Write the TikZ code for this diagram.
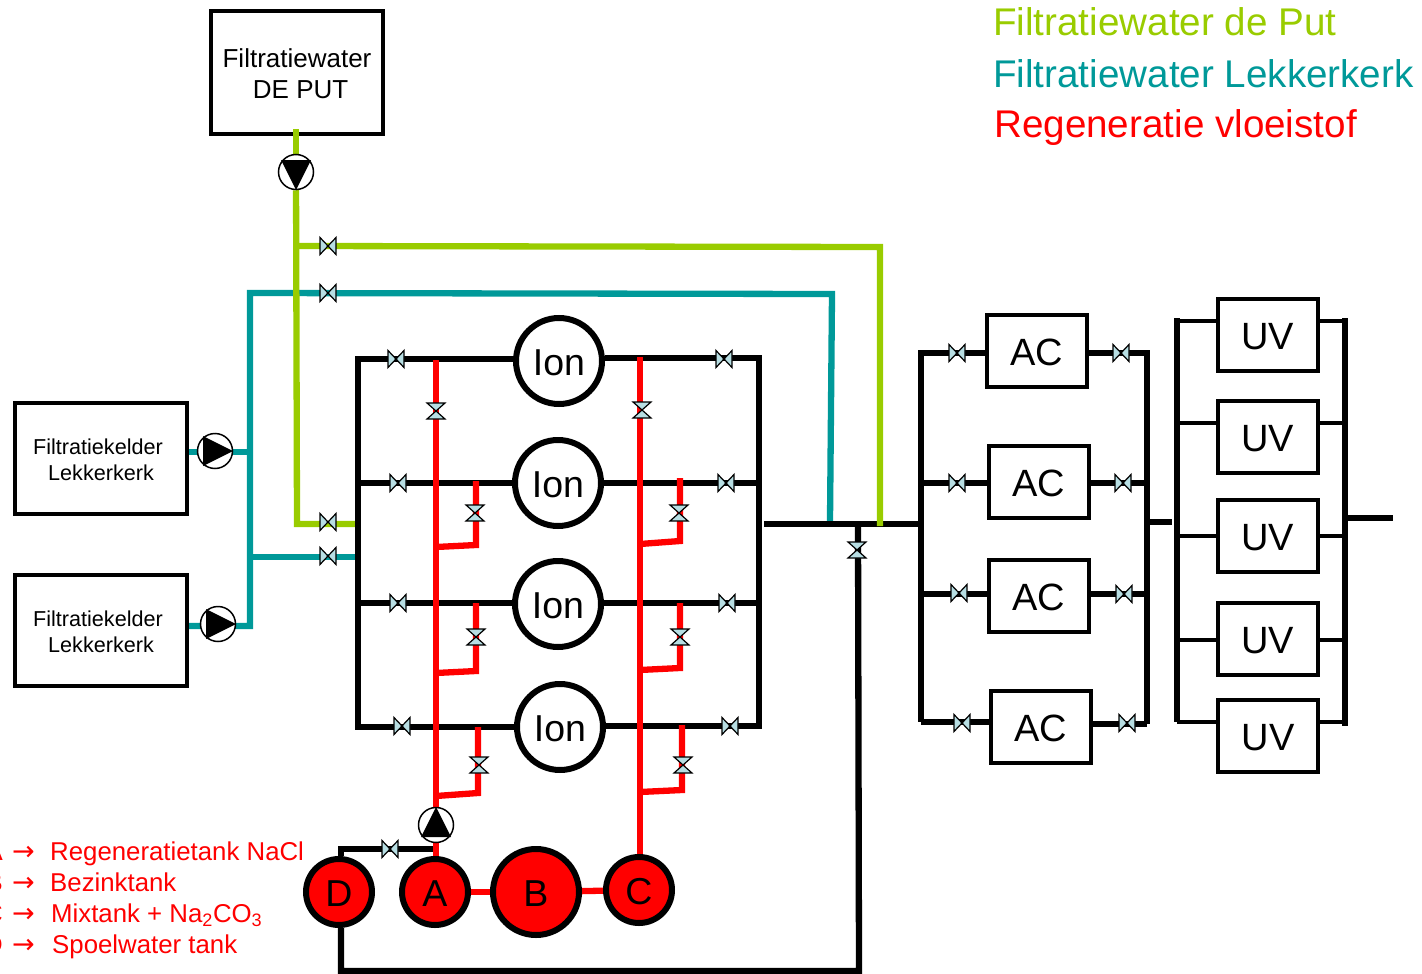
\documentclass[tikz,border=0pt]{standalone}
\usepackage{fontspec}
\setmainfont{Liberation Sans}
\newfontfamily\arrowfont{DejaVu Sans}
\usetikzlibrary{calc}
\pgfdeclarelayer{lines}
\pgfsetlayers{lines,main}
\definecolor{putgreen}{HTML}{99CC00}
\definecolor{lekteal}{HTML}{009999}
\definecolor{valveblue}{HTML}{B7DEE3}
\newcommand{\lowered}[1]{\raisebox{-2pt}[\height][\depth]{#1}}
\newcommand{\loweredac}[1]{\raisebox{-1pt}[\height][\depth]{#1}}
\tikzset{
  pipe/.style={line width=6.3pt,line join=miter},
  blackpipe/.style={pipe,draw=black},
  thinpipe/.style={line width=4.5pt,draw=black},
  redpipe/.style={pipe,draw=red},
  greenpipe/.style={pipe,draw=putgreen},
  tealpipe/.style={pipe,draw=lekteal},
  unitbox/.style={draw=black,line width=4pt,fill=white,inner sep=0pt,align=center},
  bigbox/.style={unitbox,minimum width=172pt,minimum height=122pt,font=\fontsize{26}{31}\selectfont},
  cellarbox/.style={unitbox,minimum width=172pt,minimum height=111pt,font=\fontsize{21.6}{26}\selectfont},
  acbox/.style={unitbox,minimum width=100pt,minimum height=72pt,font=\fontsize{38}{40}\selectfont},
  ionnode/.style={circle,draw=black,line width=6pt,fill=white,inner sep=0pt,minimum size=86pt,font=\fontsize{37.5}{40}\selectfont},
  tank/.style={circle,draw=black,line width=6pt,fill=red,inner sep=0pt,minimum size=#1,font=\fontsize{37.5}{40}\selectfont},
  pumpnode/.style={circle,draw=black,line width=1.5pt,fill=white,inner sep=0pt,minimum size=35pt},
  vnode/.style={inner sep=0pt,minimum size=16pt},
  vshape/.style={draw=black,line width=1.2pt,fill=valveblue,line join=miter},
  legendtop/.style={anchor=base west,inner sep=0pt,font=\fontsize{38.6}{42}\selectfont},
  legendlow/.style={anchor=base west,inner sep=0pt,text=red,font=\fontsize{25.8}{30}\selectfont},
  legendletter/.style={anchor=base east,inner sep=0pt,text=red,font=\fontsize{25.8}{30}\selectfont},
  legendarrow/.style={anchor=base west,inner sep=0pt,text=red,font=\arrowfont\fontsize{27}{30}\selectfont}
}
\newcommand{\valveH}[3]{%
  \node[vnode] (#1) at (#2,#3) {};
  \draw[vshape] (#2-8,#3-8.5) -- (#2+8,#3+8.5) -- (#2+8,#3-8.5) -- (#2-8,#3+8.5) -- cycle;}
\newcommand{\valveV}[3]{%
  \node[vnode] (#1) at (#2,#3) {};
  \draw[vshape] (#2-9,#3-8) -- (#2+9,#3-8) -- (#2-9,#3+8) -- (#2+9,#3+8) -- cycle;}
\newcommand{\pumpDown}[3]{%
  \node[pumpnode] (#1) at (#2,#3) {};
  \fill[black] (#2-15,#3-12) -- (#2+15,#3-12) -- (#2,#3+18) -- cycle;}
\newcommand{\pumpUp}[3]{%
  \node[pumpnode] (#1) at (#2,#3) {};
  \fill[black] (#2-15,#3+12) -- (#2+15,#3+12) -- (#2,#3-18) -- cycle;}
\newcommand{\pumpRight}[3]{%
  \node[pumpnode] (#1) at (#2,#3) {};
  \fill[black] (#2-12,#3-15) -- (#2-12,#3+15) -- (#2+18,#3) -- cycle;}
\newcommand{\legendrow}[5]{%
  \node[legendletter] (#1l) at (3,#3) {#4};
  \node[legendarrow] (#1a) at (12,#3) {→};
  \node[legendlow] (#1) at (#2,#3) {#5};}
\begin{document}
\begin{tikzpicture}[x=1pt,y=-1pt]
\useasboundingbox (0,0) rectangle (1422,974);
% top legend
\node[legendtop,text=putgreen] (lg1) at (993,36) {Filtratiewater de Put};
\node[legendtop,text=lekteal] (lg2) at (993,87.5) {Filtratiewater Lekkerkerk};
\node[legendtop,text=red] (lg3) at (994,137) {Regeneratie vloeistof};
% lower legend
\legendrow{ll1}{50}{860}{A}{Regeneratietank NaCl}
\legendrow{ll2}{50}{891}{B}{Bezinktank}
\legendrow{ll3}{51}{922}{C}{Mixtank + Na\textsubscript{2}CO\textsubscript{3}}
\legendrow{ll4}{52}{953}{D}{Spoelwater tank}
% boxes
\node[bigbox] (put) at (297,72.5) {\rule{0pt}{21pt}Filtratiewater\\\ DE PUT};
\node[cellarbox] (k1) at (101,458.5) {\rule{0pt}{18pt}Filtratiekelder\hspace*{6pt}\\Lekkerkerk};
\node[cellarbox] (k2) at (101,630.5) {\rule{0pt}{18pt}Filtratiekelder\hspace*{6pt}\\Lekkerkerk};
% ion units
\node[ionnode] (ion1) at (559,361) {\lowered{Ion}};
\node[ionnode] (ion2) at (558,483) {\lowered{Ion}};
\node[ionnode] (ion3) at (558,604) {\lowered{Ion}};
\node[ionnode] (ion4) at (560,727) {\lowered{Ion}};
% tanks
\node[tank=66pt] (D) at (339,892) {\lowered{D}};
\node[tank=66pt] (A) at (435,892) {\lowered{A}};
\node[tank=86pt] (B) at (536,892) {\lowered{B}};
\node[tank=66pt] (C) at (639,890) {\lowered{C}};
% AC
\node[acbox] (ac1) at (1037,351) {\loweredac{AC}};
\node[acbox] (ac2) at (1039,482) {\loweredac{AC}};
\node[acbox] (ac3) at (1039,596) {\loweredac{AC}};
\node[acbox] (ac4) at (1041,727) {\loweredac{AC}};
% UV
\node[acbox] (uv1) at (1267.5,335) {\lowered{UV}};
\node[acbox] (uv2) at (1267.5,437) {\lowered{UV}};
\node[acbox] (uv3) at (1267.5,536) {\lowered{UV}};
\node[acbox] (uv4) at (1267.5,639) {\lowered{UV}};
\node[acbox] (uv5) at (1268,736) {\lowered{UV}};
% green stub lies over the border of the source box
\coordinate (gt) at (296,129);
\coordinate (gp) at (296,155);
\draw[greenpipe] (gt) -- (gp);
% pumps
\pumpDown{p1}{296}{172}
\pumpRight{p2}{215}{451}
\pumpRight{p3}{218}{624}
\pumpUp{p4}{436}{825}
% valves
\valveH{v1}{328}{246}
\valveH{v2}{328}{293}
\valveH{v3}{328}{522}
\valveH{v4}{328}{556}
\valveH{vl1}{396}{359}
\valveH{vl2}{398}{483}
\valveH{vl3}{398}{603}
\valveH{vl4}{402}{726}
\valveH{vr1}{724}{359}
\valveH{vr2}{726}{483}
\valveH{vr3}{727}{603}
\valveH{vr4}{730}{726}
\valveV{rv1}{436}{411}
\valveV{rv2}{642}{410}
\valveV{rb1}{475}{513}
\valveV{rb2}{476}{637}
\valveV{rb3}{479}{765}
\valveV{rb4}{679}{513}
\valveV{rb5}{680}{637}
\valveV{rb6}{683}{765}
\valveH{vd}{390}{849}
\valveV{vm}{857}{550}
\valveH{val1}{957}{353}
\valveH{val2}{957}{483}
\valveH{val3}{959}{593}
\valveH{val4}{962}{723}
\valveH{var1}{1121}{353}
\valveH{var2}{1123}{483}
\valveH{var3}{1124}{594}
\valveH{var4}{1127}{723}
% junctions
\coordinate (fl1) at (358,359); \coordinate (fl4) at (358,727);
\coordinate (fl2) at (358,483); \coordinate (fl3) at (358,603);
\coordinate (fr1) at (759,358); \coordinate (fr4) at (759,726);
\coordinate (fr2) at (759,483); \coordinate (fr3) at (759,603);
\coordinate (gj) at (296,246); \coordinate (gc) at (880,247);
\coordinate (gb) at (880,526); \coordinate (gl) at (297,524); \coordinate (ge) at (355,524);
\coordinate (tc) at (250,293); \coordinate (tr) at (832,294); \coordinate (tb) at (830,521);
\coordinate (tm) at (250,557); \coordinate (te) at (356,557); \coordinate (tp1) at (247,452);
\coordinate (tp2) at (250,626);
\coordinate (ms) at (764,524); \coordinate (me) at (921,524);
\coordinate (mv) at (858,524); \coordinate (br) at (859,971); \coordinate (bl) at (341,971);
\coordinate (dt) at (341,849); \coordinate (dr) at (436,849);
\coordinate (al1) at (921,350); \coordinate (al4) at (921,722);
\coordinate (al2) at (921,483); \coordinate (al3) at (921,594);
\coordinate (ar1) at (1147,350); \coordinate (ar4) at (1147,724);
\coordinate (ar2) at (1147,483); \coordinate (ar3) at (1147,594); \coordinate (arm) at (1147,522);
\coordinate (uvlm) at (1172,522);
\coordinate (ul1) at (1177,318); \coordinate (ul5) at (1177,722);
\coordinate (ur1) at (1345,318); \coordinate (ur5) at (1345,726);
\coordinate (urm) at (1345,518); \coordinate (ue) at (1393,518);
\coordinate (rl1) at (436,360); \coordinate (rr1) at (640,357);
\coordinate (lb1) at (476,481); \coordinate (lb1c) at (476,545); \coordinate (lb1e) at (436,547);
\coordinate (lb2) at (476,603); \coordinate (lb2c) at (476,671); \coordinate (lb2e) at (436,673);
\coordinate (lb3) at (478,727); \coordinate (lb3c) at (478,793); \coordinate (lb3e) at (436,796);
\coordinate (rb1s) at (680,478); \coordinate (rb1c) at (680,541); \coordinate (rb1e) at (640,544);
\coordinate (rb2s) at (680,603); \coordinate (rb2c) at (680,668); \coordinate (rb2e) at (640,670);
\coordinate (rb3s) at (682,725); \coordinate (rb3c) at (682,790); \coordinate (rb3e) at (640,792);
\begin{pgfonlayer}{lines}
% teal
\draw[tealpipe] (k1.east |- tp1) -- (tp1);
\draw[tealpipe] (k2.east |- tp2) -- (tp2) -- (tc) -- (tr) -- (tb);
\draw[tealpipe] (tm) -- (te);
% black main line under the green end
\draw[blackpipe] (ms) -- (me);
% green
\draw[greenpipe] (p1) -- (gl) -- (ge);
\draw[greenpipe] (gj) -- (gc) -- (gb);
% black frames and rows
\draw[blackpipe] (fl1) -- (fl1 -| ion1.west);
\draw[blackpipe] (fl2) -- (fl2 -| ion2.west);
\draw[blackpipe] (fl3) -- (fl3 -| ion3.west);
\draw[blackpipe] (fl4) -- (fl4 -| ion4.west);
\draw[blackpipe] (fr1 -| ion1.east) -- (fr1);
\draw[blackpipe] (fr2 -| ion2.east) -- (fr2);
\draw[blackpipe] (fr3 -| ion3.east) -- (fr3);
\draw[blackpipe] (fr4 -| ion4.east) -- (fr4);
\draw[blackpipe,line cap=rect] (fl1) -- (fl4);
\draw[blackpipe,line cap=rect] (fr1) -- (fr4);
% black lower loop
\draw[blackpipe] (D.north -| dt) -- (dt) -- (dr);
\draw[blackpipe] (D.south -| bl) -- (bl) -- (br) -- (mv);
% red
\draw[redpipe] (rl1) -- (A.north -| rl1);
\draw[redpipe] (rr1) -- (C.north -| rr1);
\draw[redpipe] (lb1) -- (lb1c) -- (lb1e);
\draw[redpipe] (lb2) -- (lb2c) -- (lb2e);
\draw[redpipe] (lb3) -- (lb3c) -- (lb3e);
\draw[redpipe] (rb1s) -- (rb1c) -- (rb1e);
\draw[redpipe] (rb2s) -- (rb2c) -- (rb2e);
\draw[redpipe] (rb3s) -- (rb3c) -- (rb3e);
\draw[redpipe] (A) -- (B);
\draw[redpipe] (B) -- (C);
% AC bank
\draw[blackpipe] (al1) -- (al4);
\draw[blackpipe] (ar1) -- (ar4);
\draw[blackpipe] (al1 |- val1) -- (ac1.west |- val1);
\draw[blackpipe] (al2) -- (ac2.west |- al2);
\draw[blackpipe] (al3) -- (ac3.west |- al3);
\draw[blackpipe] (al4) -- (ac4.west |- al4);
\draw[blackpipe] (ac1.east |- var1) -- (ar1 |- var1);
\draw[blackpipe] (ac2.east |- ar2) -- (ar2);
\draw[blackpipe] (ac3.east |- ar3) -- (ar3);
\draw[blackpipe] (ac4.east |- ar4) -- (ar4);
\draw[blackpipe] (arm) -- (uvlm);
% UV bank
\draw[blackpipe] (ul1) -- (ul5);
\draw[blackpipe] (ur1) -- (ur5);
\draw[thinpipe] (ul1 |- 0,321) -- (uv1.west |- 0,321);
\draw[thinpipe] (ul1 |- 0,423) -- (uv2.west |- 0,423);
\draw[thinpipe] (ul1 |- 0,536) -- (uv3.west |- 0,536);
\draw[thinpipe] (ul1 |- 0,640) -- (uv4.west |- 0,640);
\draw[thinpipe] (ul5) -- (uv5.west |- ul5);
\draw[thinpipe] (uv1.east |- 0,321) -- (ur1 |- 0,321);
\draw[thinpipe] (uv2.east |- 0,423) -- (ur1 |- 0,423);
\draw[thinpipe] (uv3.east |- 0,536) -- (ur1 |- 0,536);
\draw[thinpipe] (uv4.east |- 0,640) -- (ur1 |- 0,640);
\draw[thinpipe] (uv5.east |- 0,722) -- (ur1 |- 0,722);
\draw[blackpipe] (urm) -- (ue);
\end{pgfonlayer}
\end{tikzpicture}
\end{document}
